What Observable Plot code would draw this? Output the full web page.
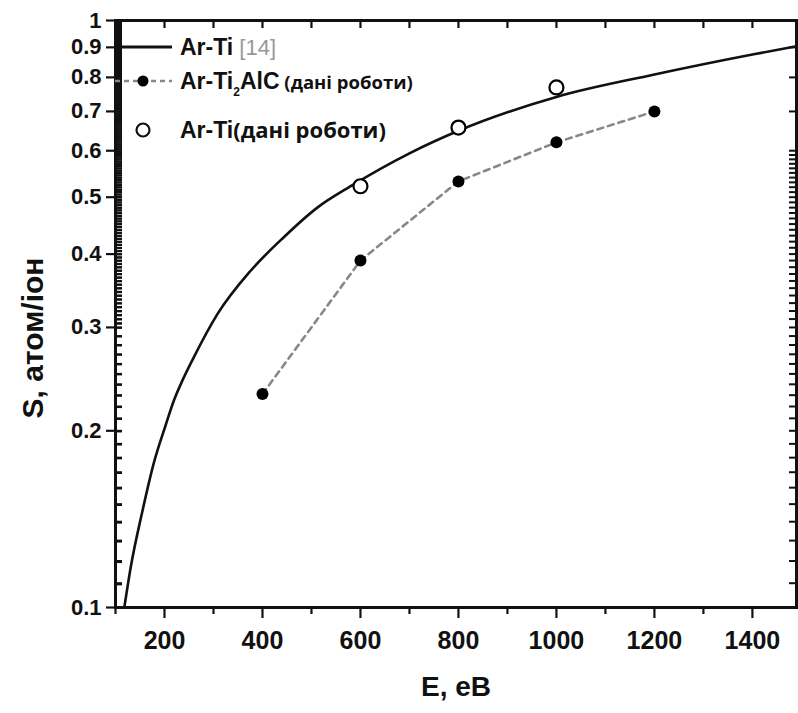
<!DOCTYPE html>
<html><head><meta charset="utf-8">
<script src="https://cdn.jsdelivr.net/npm/d3@7"></script>
<script src="https://cdn.jsdelivr.net/npm/@observablehq/plot@0.6"></script>
<style>
body{margin:0;background:#fff;}
#wrap{position:relative;width:798px;height:713px;}
#wrap svg{display:block;}
</style></head><body><div id="wrap"></div>
<script>
// Reference curve Ar-Ti [14]
const curveE = [118, 131, 155, 178, 202, 219, 236, 260, 308, 375, 443, 512, 580, 700, 800, 1000, 1200, 1400, 1490];
const curveS = [0.100, 0.117, 0.146, 0.176, 0.204, 0.225, 0.243, 0.267, 0.316, 0.374, 0.427, 0.480, 0.522, 0.594, 0.649, 0.741, 0.809, 0.875, 0.904];
// Ar-Ti2AlC (дані роботи)
const alcE = [400, 600, 800, 1000, 1200];
const alcS = [0.231, 0.39, 0.532, 0.62, 0.70];
// Ar-Ti (дані роботи)
const tiE = [600, 800, 1000];
const tiS = [0.522, 0.657, 0.769];
// ticks
const xTicks = [200, 400, 600, 800, 1000, 1200, 1400];
const xTickLabels = ["200", "400", "600", "800", "1000", "1200", "1400"];
const yTicks = [0.1, 0.2, 0.3, 0.4, 0.5, 0.6, 0.7, 0.8, 0.9, 1];
const yTickLabels = ["0.1", "0.2", "0.3", "0.4", "0.5", "0.6", "0.7", "0.8", "0.9", "1"];
const xLabel = "E, eB";
const yLabel = "S, атом/іон";

const xLab = new Map(xTicks.map((d, i) => [d, xTickLabels[i]]));
const yLab = new Map(yTicks.map((d, i) => [d, yTickLabels[i]]));
const xHundreds = d3.range(100, 1500, 100);
const xOdd = xHundreds.filter(d => d % 200 !== 0);
const yMinorLeft = d3.range(200, 2000, 1).map(d => d / 2000).filter(d => (d < 0.3 ? (Math.round(d * 1000) % 10 === 0) : (Math.round(d * 1000) % 5 === 0)));
const yMinorRight = d3.range(10, 61, 1).map(d => d / 100).concat([0.7, 0.8, 0.9]);

const curve = curveE.map((e, i) => ({E: e, S: curveS[i]}));
const alc = alcE.map((e, i) => ({E: e, S: alcS[i]}));
const ti = tiE.map((e, i) => ({E: e, S: tiS[i]}));

const font = "'Liberation Sans', Arial, sans-serif";
const W = 798, H = 713, mL = 115, mR = 2, mT = 20, mB = 106;
const fw = W - mL - mR, fh = H - mT - mB;

const chart = Plot.plot({
  width: W, height: H,
  marginLeft: mL, marginRight: mR, marginTop: mT, marginBottom: mB,
  x: {domain: [100, 1490]},
  y: {type: "log", domain: [0.1, 1]},
  style: {fontFamily: font, fontSize: "22px", fontWeight: "bold", color: "#111", background: "#fff"},
  marks: [
    Plot.axisY(yTicks, {anchor: "left", tickSize: 9, tickPadding: 5, strokeWidth: 2.2, tickFormat: d => yLab.get(d), label: null}),
    Plot.axisX(xTicks, {anchor: "bottom", tickSize: 11, tickPadding: 13, strokeWidth: 2.2, tickFormat: d => xLab.get(d), fontSize: 25, label: null}),
    // minor ticks
    Plot.tickY(yMinorLeft, {y: d => d, insetRight: fw - 7, strokeWidth: 2, stroke: "#111"}),
    Plot.tickY(yMinorRight, {y: d => d, insetLeft: fw - 7, strokeWidth: 2, stroke: "#111"}),
    Plot.tickX(xHundreds, {x: d => d, insetBottom: fh - 8, strokeWidth: 2.2, stroke: "#111"}),
    Plot.tickX(xOdd, {x: d => d, insetTop: fh, insetBottom: -7, strokeWidth: 2.2, stroke: "#111"}),
    Plot.line(curve, {x: "E", y: "S", curve: "monotone-x", stroke: "#111", strokeWidth: 2.6}),
    Plot.line(alc, {x: "E", y: "S", stroke: "#888", strokeWidth: 2.6, strokeDasharray: "6,5"}),
    Plot.dot(alc, {x: "E", y: "S", r: 6, fill: "#000", stroke: "none"}),
    Plot.dot(ti, {x: "E", y: "S", r: 7, fill: "#fff", stroke: "#000", strokeWidth: 2.2}),
    Plot.frame({strokeWidth: 3, stroke: "#111"}),
    Plot.text([xLabel], {frameAnchor: "bottom", dy: 88, fontSize: 28, fontWeight: "bold", fill: "#111"}),
    Plot.text([yLabel], {frameAnchor: "left", textAnchor: "middle", dx: -82, dy: 24, rotate: -90, fontSize: 30, fontWeight: "bold", fill: "#111", style: "letter-spacing:2.6px"})
  ]
});

const wrap = document.getElementById("wrap");
wrap.appendChild(chart);

// Legend overlay
const lg = d3.select(wrap).append("svg")
  .attr("width", W).attr("height", H)
  .style("position", "absolute").style("left", "0px").style("top", "0px")
  .style("pointer-events", "none")
  .style("font-family", font).style("font-weight", "bold");

const r1 = 47, r2 = 81, r3 = 130;
lg.append("line").attr("x1", 115).attr("x2", 172).attr("y1", r1).attr("y2", r1).attr("stroke", "#111").attr("stroke-width", 3);
let t = lg.append("text").attr("x", 180).attr("y", r1).attr("dy", "0.36em").attr("font-size", 23).attr("fill", "#111");
t.append("tspan").text("Ar-Ti");
t.append("tspan").attr("fill", "#999").attr("font-weight", "normal").attr("font-size", 22).text(" [14]");

lg.append("line").attr("x1", 115).attr("x2", 172).attr("y1", r2).attr("y2", r2).attr("stroke", "#888").attr("stroke-width", 2.5).attr("stroke-dasharray", "5,4");
lg.append("circle").attr("cx", 143).attr("cy", r2).attr("r", 5.5).attr("fill", "#000");
t = lg.append("text").attr("x", 180).attr("y", r2).attr("dy", "0.36em").attr("font-size", 23).attr("fill", "#111");
t.append("tspan").text("Ar-Ti");
t.append("tspan").attr("font-size", 12).attr("dy", 7).text("2");
t.append("tspan").attr("dy", -7).text("AlC");
t.append("tspan").attr("font-size", 18.5).attr("font-family", "'Open Sans', sans-serif").text(" (дані роботи)");

lg.append("circle").attr("cx", 143).attr("cy", r3).attr("r", 6.5).attr("fill", "#fff").attr("stroke", "#111").attr("stroke-width", 2.2);
t = lg.append("text").attr("x", 180).attr("y", r3).attr("dy", "0.36em").attr("font-size", 23).attr("fill", "#111");
t.append("tspan").text("Ar-Ti");
t.append("tspan").attr("font-size", 22).attr("font-family", "'Open Sans', sans-serif").text("(дані роботи)");
</script></body></html>
